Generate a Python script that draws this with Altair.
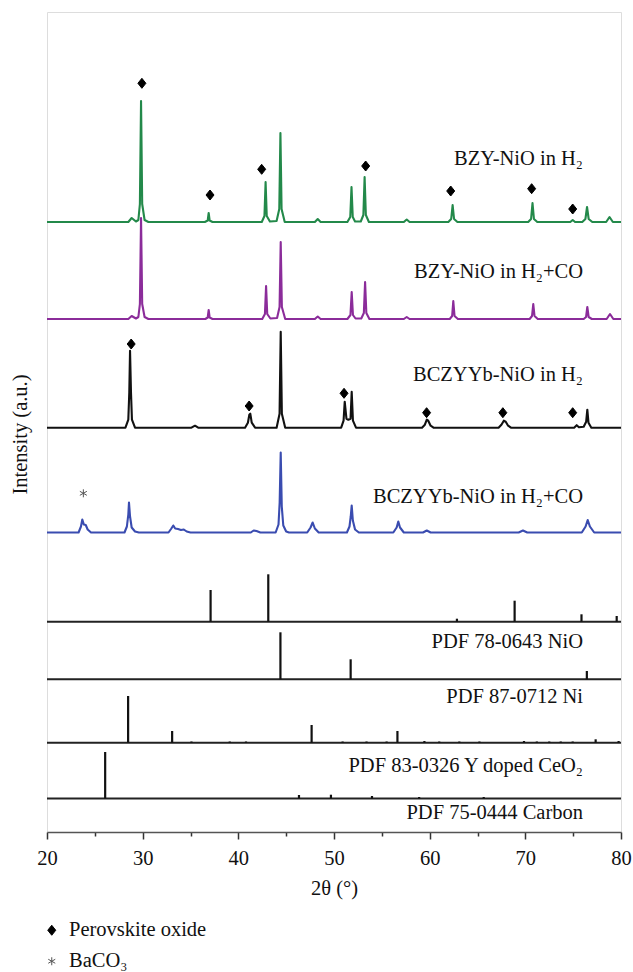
import altair as alt
import pandas as pd

# ---------------- data ----------------
# measured patterns: (2theta, intensity above the pattern's own baseline, a.u.)
BZY_H2 = [(20.0, 0), (28.5, 0), (28.85, 4), (29.3, 0.5), (29.55, 2), (29.71, 18), (29.83, 121),
          (29.95, 18), (30.2, 2), (30.6, 0), (36.5, 0), (36.8, 1.5), (36.9, 9), (37.0, 1.5),
          (37.3, 0), (42.45, 0), (42.73, 6), (42.85, 40), (42.97, 6), (43.3, 0.5), (44.0, 1),
          (44.28, 13), (44.4, 89), (44.52, 13), (44.85, 0), (48.0, 0), (48.3, 3), (48.6, 0),
          (51.4, 0), (51.7, 5), (51.83, 35), (51.96, 5), (52.2, 0.5), (52.8, 0.5), (53.07, 7),
          (53.2, 45), (53.33, 7), (53.65, 0), (57.3, 0), (57.6, 2.5), (57.9, 0), (61.95, 0),
          (62.25, 3), (62.4, 17), (62.55, 3), (62.9, 0), (70.3, 0), (70.6, 3), (70.75, 19),
          (70.9, 3), (71.25, 0), (74.7, 0), (74.95, 2), (75.2, 0), (75.95, 0), (76.28, 3),
          (76.45, 15), (76.62, 3), (77.0, 0), (78.45, 0), (78.8, 5), (79.15, 0), (80.0, 0)]

BZY_H2CO = [(20.0, 0), (28.5, 0), (28.85, 3), (29.3, 0.5), (29.55, 2), (29.71, 15), (29.83, 101),
            (29.95, 15), (30.2, 2), (30.6, 0), (36.55, 0), (36.8, 1.5), (36.9, 9), (37.0, 1.5),
            (37.3, 0), (42.5, 0), (42.78, 5), (42.9, 33), (43.02, 5), (43.35, 0.5), (44.05, 1),
            (44.31, 12), (44.43, 77), (44.55, 12), (44.9, 0), (48.0, 0), (48.3, 2.5), (48.6, 0),
            (51.4, 0), (51.72, 4), (51.85, 27), (51.98, 4), (52.25, 0.5), (52.85, 0.5), (53.12, 6),
            (53.25, 37), (53.38, 6), (53.7, 0), (57.3, 0), (57.6, 2), (57.9, 0), (62.1, 0),
            (62.35, 3), (62.47, 18), (62.6, 3), (62.95, 0), (70.45, 0), (70.7, 3), (70.83, 15),
            (70.96, 3), (71.3, 0), (76.1, 0), (76.35, 2), (76.48, 12), (76.62, 2), (76.95, 0),
            (78.5, 0), (78.85, 5), (79.2, 0), (80.0, 0)]

BCZYYB_H2 = [(20.0, 0), (28.2, 0), (28.5, 8), (28.6, 35), (28.68, 77), (28.78, 35), (28.88, 8),
             (29.2, 0), (35.1, 0), (35.47, 2), (35.8, 0), (40.7, 0), (41.0, 5), (41.15, 13),
             (41.25, 14), (41.4, 5), (41.75, 0), (44.0, 0), (44.31, 14), (44.43, 96), (44.55, 14),
             (44.9, 0), (50.75, 0), (51.0, 7), (51.12, 26), (51.3, 9), (51.5, 8), (51.73, 9),
             (51.85, 36), (51.98, 7), (52.3, 0), (59.2, 0), (59.5, 3), (59.7, 8), (59.85, 7),
             (60.1, 2), (60.4, 0), (67.2, 0), (67.5, 3), (67.75, 7), (67.95, 6), (68.2, 2),
             (68.5, 0), (75.1, 0), (75.37, 2.5), (75.6, 0.5), (76.1, 1), (76.36, 6), (76.48, 18),
             (76.6, 5), (76.9, 0), (80.0, 0)]

BCZYYB_H2CO = [(20.0, 0), (23.3, 0), (23.55, 6), (23.69, 13), (23.85, 8), (24.05, 7.5), (24.25, 3),
               (24.6, 0), (28.1, 0), (28.35, 6), (28.5, 18), (28.57, 30), (28.68, 16), (28.85, 5),
               (29.2, 1), (29.6, 0), (32.7, 0), (33.0, 4), (33.2, 7), (33.4, 4), (33.7, 3.5),
               (34.0, 2.5), (34.3, 3), (34.6, 1), (35.0, 0), (41.3, 0), (41.6, 2), (41.9, 1.5),
               (42.3, 0), (43.9, 0), (44.2, 8), (44.32, 30), (44.43, 80), (44.54, 26), (44.7, 7),
               (45.0, 1), (45.3, 0), (47.2, 0), (47.55, 5), (47.77, 10), (48.0, 4), (48.4, 0),
               (51.35, 0), (51.62, 6), (51.75, 16), (51.85, 27), (51.97, 12), (52.2, 3), (52.6, 0),
               (56.2, 0), (56.55, 5), (56.72, 11), (56.9, 5), (57.3, 0), (59.3, 0), (59.7, 2),
               (60.1, 0), (69.3, 0), (69.75, 2), (70.2, 0), (75.9, 0), (76.3, 6), (76.52, 12.5),
               (76.75, 6), (77.2, 0), (80.0, 0)]

SAMPLE_NAMES = ["BZY-NiO in H₂", "BZY-NiO in H₂+CO", "BCZYYb-NiO in H₂", "BCZYYb-NiO in H₂+CO"]
SAMPLE_DATA = [BZY_H2, BZY_H2CO, BCZYYB_H2, BCZYYB_H2CO]
SAMPLE_OFFSETS = [610, 513, 404.3, 299.5]
SAMPLE_LABEL_Y = [673, 560.3, 457, 335.3]
SAMPLE_COLORS = ["#23894a", "#8b2c9a", "#111111", "#3a4cb0"]

# reference (PDF) stick patterns
REF_NAMES = ["", "PDF 78-0643 NiO", "PDF 87-0712 Ni", "PDF 83-0326 Y doped CeO₂", "PDF 75-0444 Carbon"]
REF_OFFSETS = [210.3, 152.7, 89.3, 33.5, 0]
REF_LABEL_Y = [None, 190.3, 135.3, 66.3, 18.7]
REF_POS = [
    [37.1, 43.13, 62.85, 68.88, 75.87, 79.55],
    [44.4, 51.74, 76.43],
    [28.48, 33.08, 47.66, 56.63, 59.45, 69.86, 77.35, 79.75, 35.1, 39.1, 40.8, 50.9, 53.4,
     55.5, 61.0, 63.1, 65.2, 71.2, 72.5, 73.7, 74.95],
    [26.08, 46.34, 49.68, 53.97, 58.9, 65.65],
    [],
]
REF_HEIGHT = [
    [31.7, 47.4, 3, 21, 7.4, 5.7],
    [47, 20, 8.3],
    [46.7, 11.7, 17.7, 11.7, 1.7, 1.7, 3.4, 1.7, 1.2, 1.2, 1.2, 1.2, 1.2,
     1.2, 1.2, 1.2, 1.2, 1.2, 1.2, 1.2, 1.2],
    [46.5, 3.5, 3.8, 2.5, 1.5, 1.5],
    [],
]

# phase markers
PEROV_MARK_TT = [29.92, 37.04, 42.44, 53.31, 62.2, 70.66, 74.95,
                 28.8, 41.13, 51.05, 59.68, 67.65, 74.95]
PEROV_MARK_Y = [748.7, 637, 662.7, 666, 641, 643.3, 623,
                488, 426, 438.7, 419.3, 419.3, 419.3]
BACO3_MARK_TT = [23.8]
BACO3_MARK_Y = [338.7]
MARK_TYPES = ["Perovskite oxide", "BaCO₃"]

LABEL_RIGHT_TT = 76.03
X_MIN, X_MAX = 20, 80
Y_MAX = 820

FONT = "Liberation Serif"
FS = 20.5

# ---------------- tables ----------------
rows = []
for name, pts, off in zip(SAMPLE_NAMES, SAMPLE_DATA, SAMPLE_OFFSETS):
    for tt, inten in pts:
        rows.append({"series": name, "tt": tt, "y": off + inten})
curves = pd.DataFrame(rows)

srows = []
for name, pos, hts, off in zip(REF_NAMES, REF_POS, REF_HEIGHT, REF_OFFSETS):
    for p, h in zip(pos, hts):
        srows.append({"ref": name, "tt": p, "y0": off, "y1": off + h})
sticks = pd.DataFrame(srows)

baselines = pd.DataFrame({"y": REF_OFFSETS[:4], "x0": [X_MIN] * 4, "x1": [X_MAX] * 4})

lrows = [{"text": n, "tt": LABEL_RIGHT_TT, "y": y} for n, y in zip(SAMPLE_NAMES, SAMPLE_LABEL_Y)]
lrows += [{"text": n, "tt": LABEL_RIGHT_TT, "y": y} for n, y in zip(REF_NAMES, REF_LABEL_Y) if y is not None]
labels = pd.DataFrame(lrows)

mrows = [{"tt": t, "y": y, "type": MARK_TYPES[0]} for t, y in zip(PEROV_MARK_TT, PEROV_MARK_Y)]
mrows += [{"tt": t, "y": y, "type": MARK_TYPES[1]} for t, y in zip(BACO3_MARK_TT, BACO3_MARK_Y)]
marks = pd.DataFrame(mrows)

# ---------------- encodings ----------------
x_scale = alt.Scale(domain=[X_MIN, X_MAX], nice=False, zero=False)
y_scale = alt.Scale(domain=[0, Y_MAX], nice=False, zero=False)

x_axis = alt.Axis(
    title="2θ (°)",
    values=list(range(20, 81, 5)),
    labelExpr="datum.value % 10 === 0 ? datum.label : ''",
    tickSize={"condition": {"test": "datum.value % 10 === 0", "value": 7}, "value": 4},
    tickWidth=1.5, tickColor="#333333",
    domainColor="#555555", domainWidth=1.6,
    labelFlush=False, labelFont=FONT, labelFontSize=FS, labelColor="#111111",
    labelPadding=9.5,
    titleFont=FONT, titleFontSize=FS, titleFontWeight="normal", titleColor="#111111",
    titlePadding=9.5, grid=False,
)
y_axis = alt.Axis(
    title="Intensity (a.u.)", labels=False, ticks=False, domain=False, grid=False,
    titleFont=FONT, titleFontSize=FS, titleFontWeight="normal", titleColor="#111111",
    titleAngle=270, titleAlign="center", titleBaseline="alphabetic", titleX=-21, titleY=422,
)

X = alt.X("tt:Q", scale=x_scale, axis=x_axis)
Y = alt.Y("y:Q", scale=y_scale, axis=y_axis)

lines = alt.Chart(curves).mark_line(strokeWidth=2.1, strokeJoin="round").encode(
    x=X, y=Y,
    color=alt.Color("series:N", scale=alt.Scale(domain=SAMPLE_NAMES, range=SAMPLE_COLORS), legend=None),
    detail="series:N",
)

base_rules = alt.Chart(baselines).mark_rule(color="#222222", strokeWidth=1.9).encode(
    x=alt.X("x0:Q", scale=x_scale), x2="x1:Q", y=alt.Y("y:Q", scale=y_scale),
)

stick_rules = alt.Chart(sticks).mark_rule(color="#111111", strokeWidth=2.2).encode(
    x=alt.X("tt:Q", scale=x_scale), y=alt.Y("y0:Q", scale=y_scale), y2="y1:Q",
)

texts = alt.Chart(labels).mark_text(
    align="right", baseline="middle", font=FONT, fontSize=FS, color="#111111"
).encode(x=alt.X("tt:Q", scale=x_scale), y=alt.Y("y:Q", scale=y_scale), text="text:N")

DIAMOND = "M0,-1L0.8,0L0,1L-0.8,0Z"
ASTERISK = "M0,-0.8L0,0.8M-0.7,-0.4L0.7,0.4M-0.7,0.4L0.7,-0.4"

marker_legend = alt.Legend(
    title=None, orient="none", legendX=-5.5, legendY=908, direction="vertical",
    labelFont=FONT, labelFontSize=FS, labelColor="#111111", labelOffset=7,
    symbolSize=100, symbolStrokeWidth=1, rowPadding=10, padding=0,
)
markers = alt.Chart(marks).mark_point(size=100, strokeWidth=1, opacity=1).encode(
    x=alt.X("tt:Q", scale=x_scale), y=alt.Y("y:Q", scale=y_scale),
    shape=alt.Shape("type:N", scale=alt.Scale(domain=MARK_TYPES, range=[DIAMOND, ASTERISK]), legend=marker_legend),
    fill=alt.Fill("type:N", scale=alt.Scale(domain=MARK_TYPES, range=["#000000", "#555555"]), legend=marker_legend),
    stroke=alt.Stroke("type:N", scale=alt.Scale(domain=MARK_TYPES, range=["#000000", "#555555"]), legend=marker_legend),
)

chart = alt.layer(base_rules, stick_rules, lines, markers, texts).resolve_scale(
    color="independent"
).properties(
    width=574, height=820,
    padding={"left": 47, "top": 12, "right": 12, "bottom": 140},
    autosize=alt.AutoSizeParams(type="none"),
).configure_view(
    stroke="#555555", strokeWidth=1.6
).configure(background="white")

chart.save("out.html", embed_options={"renderer": "svg", "actions": False})
